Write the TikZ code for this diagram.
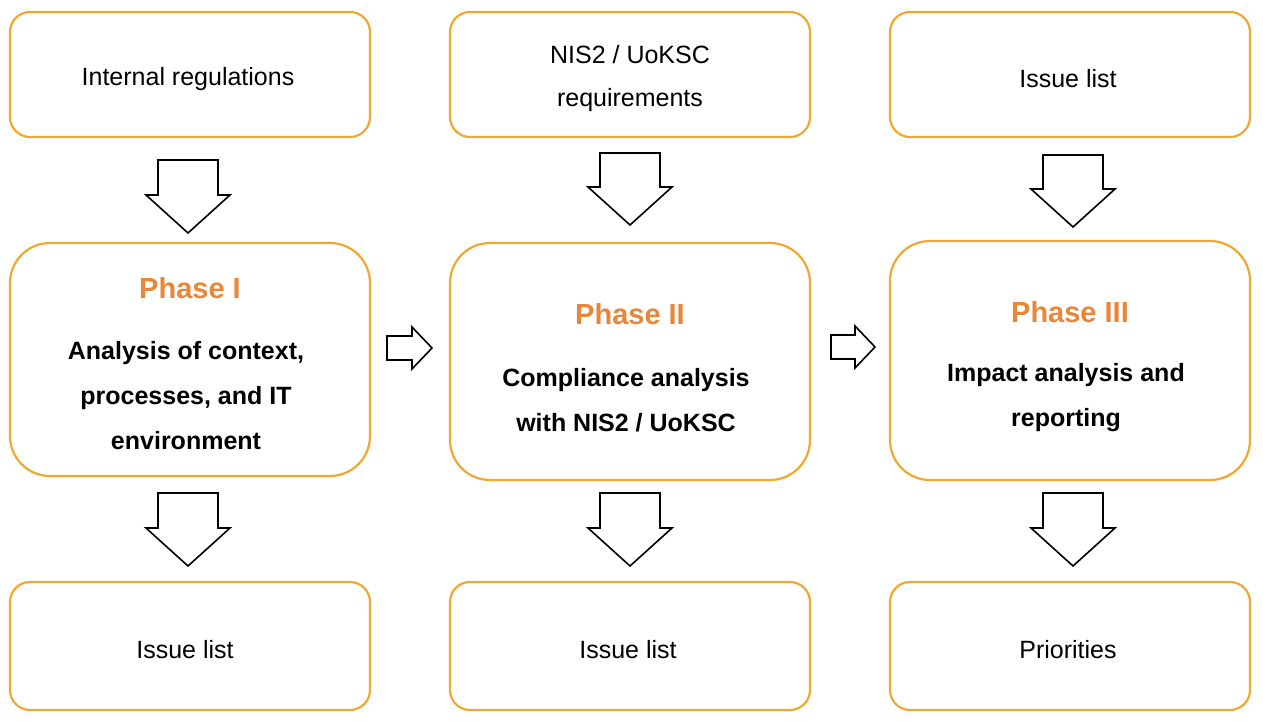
\documentclass[tikz,border=0pt]{standalone}
\usepackage{fontspec}
\setmainfont{Liberation Sans}
\definecolor{bord}{HTML}{F0A830}
\definecolor{phase}{HTML}{E8863A}
\begin{document}
\begin{tikzpicture}[x=1pt,y=-1pt,
  box/.style={draw=bord,line width=2.2pt,rounded corners=20pt,inner sep=0pt},
  pbox/.style={box,rounded corners=40pt},
  txt/.style={font=\fontsize{25}{43}\selectfont,align=center},
  blk/.style={draw=black,line width=1.6pt,fill=white,line join=miter}]
\useasboundingbox (0,0) rectangle (1263,720);
% top row
\node[box,minimum width=360pt,minimum height=125pt] (t1) at (190,74.5) {};
\node[txt] (t1t) at (188,79) {Internal regulations};
\node[box,minimum width=360pt,minimum height=125pt] (t2) at (630,74.5) {};
\node[txt] (t2t) at (630,79) {NIS2 / UoKSC\\requirements};
\node[box,minimum width=360pt,minimum height=125pt] (t3) at (1070,74.5) {};
\node[txt] (t3t) at (1068,79) {Issue list};
% phases
\node[pbox,minimum width=360pt,minimum height=233pt] (p1) at (190,359.5) {};
\node[font=\fontsize{29}{30}\selectfont\bfseries,text=phase] (p1t) at (190,288) {Phase I};
\node[font=\fontsize{25}{45}\selectfont\bfseries,align=center] (p1b) at (186,396) {Analysis of context,\\processes, and IT\\environment};
\node[pbox,minimum width=360pt,minimum height=237pt] (p2) at (630,361.5) {};
\node[font=\fontsize{29}{30}\selectfont\bfseries,text=phase] (p2t) at (630,314) {Phase II};
\node[font=\fontsize{25}{45}\selectfont\bfseries,align=center] (p2b) at (626,400) {Compliance analysis\\with NIS2 / UoKSC};
\node[pbox,minimum width=360pt,minimum height=239pt] (p3) at (1070,360.5) {};
\node[font=\fontsize{29}{30}\selectfont\bfseries,text=phase] (p3t) at (1070,312) {Phase III};
\node[font=\fontsize{25}{45}\selectfont\bfseries,align=center] (p3b) at (1066,398) {Impact analysis and\\reporting};
% bottom row
\node[box,minimum width=360pt,minimum height=128pt] (b1) at (190,646) {};
\node[txt] (b1t) at (185,650) {Issue list};
\node[box,minimum width=360pt,minimum height=128pt] (b2) at (630,646) {};
\node[txt] (b2t) at (628,650) {Issue list};
\node[box,minimum width=360pt,minimum height=128pt] (b3) at (1070,646) {};
\node[txt] (b3t) at (1068,650) {Priorities};
% down block arrows
\foreach \cx/\ya/\yb in {188/160/233, 630/153/225, 1073/155/227, 188/493/566, 630/493/566, 1073/493/566}{
  \draw[blk] (\cx-30,\ya) -- (\cx+30,\ya) -- (\cx+30,\yb-38) -- (\cx+42,\yb-38) -- (\cx,\yb) -- (\cx-42,\yb-38) -- (\cx-30,\yb-38) -- cycle;
}
% right block arrows
\foreach \xa/\xb/\cy in {387/432/348, 831/875/347}{
  \draw[blk] (\xa,\cy-12) -- (\xb-20,\cy-12) -- (\xb-20,\cy-21) -- (\xb,\cy) -- (\xb-20,\cy+21) -- (\xb-20,\cy+12) -- (\xa,\cy+12) -- cycle;
}
\end{tikzpicture}
\end{document}
